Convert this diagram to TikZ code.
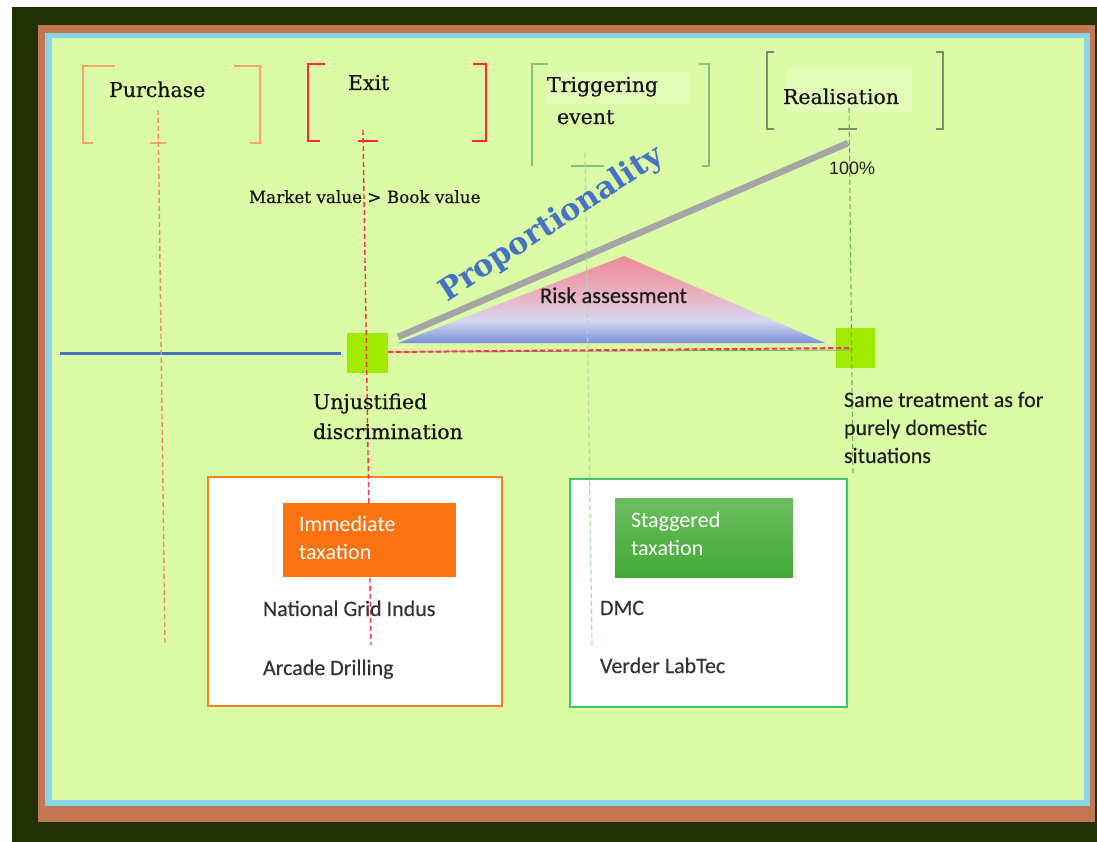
\documentclass[tikz,border=0pt]{standalone}
\usepackage{fontspec}
\setmainfont{DejaVu Serif}
\newfontfamily\heavyserif[FakeBold=0.45]{DejaVu Serif}
\newfontfamily\calfont[FakeBold=0.25]{Carlito}
\newfontfamily\calplain{Carlito}
\newfontfamily\arialfont{Liberation Sans}
\usetikzlibrary{calc}

\definecolor{outerDark}{HTML}{223005}
\definecolor{frameBrown}{HTML}{C07752}
\definecolor{frameBlue}{HTML}{88D4E6}
\definecolor{panelGreen}{HTML}{DBFBA7}
\definecolor{hiGreen}{HTML}{E2FBB6}
\definecolor{brPurch}{HTML}{F9A465}
\definecolor{brExit}{HTML}{FF2B2B}
\definecolor{brTrig}{HTML}{80C080}
\definecolor{brReal}{HTML}{7C8C6C}
\definecolor{dPurch}{HTML}{F4846E}
\definecolor{dExit}{HTML}{FF3050}
\definecolor{dTrig}{HTML}{A6E0A6}
\definecolor{dReal}{HTML}{5CB85C}
\definecolor{rampGray}{HTML}{A5A5A5}
\definecolor{markGreen}{HTML}{A3EB00}
\definecolor{lineBlue}{HTML}{4472C4}
\definecolor{triTop}{HTML}{EE8A9A}
\definecolor{triPink}{HTML}{E8B4C2}
\definecolor{triMid}{HTML}{D8D8F0}
\definecolor{triBot}{HTML}{7890DC}
\definecolor{boxOrange}{HTML}{F58220}
\definecolor{fillOrange}{HTML}{FA7312}
\definecolor{boxGreen}{HTML}{3CC864}
\definecolor{fillGreenTop}{HTML}{6CBF60}
\definecolor{fillGreenBot}{HTML}{41A935}
\definecolor{baseLine}{HTML}{6CBF5C}

% vertical fade for the risk triangle (path box maps to 25bp..75bp)
\pgfdeclareverticalshading{riskfade}{100bp}{%
  color(0bp)=(triBot); color(25bp)=(triBot); color(38bp)=(triMid);
  color(52bp)=(triPink); color(75bp)=(triTop); color(100bp)=(triTop)}

\begin{document}
\begin{tikzpicture}[x=1pt,y=-1pt,
  txt/.style={inner sep=0pt, outer sep=0pt, anchor=base west},
  serifLbl/.style={txt, font=\heavyserif\fontsize{20.5}{24}\selectfont, text=black!92},
  serifSmall/.style={txt, font=\heavyserif\fontsize{16.8}{20}\selectfont, text=black!92},
  sansLbl/.style={txt, font=\calfont\fontsize{22}{26}\selectfont, text=black!85},
  sansWhite/.style={txt, font=\calplain\fontsize{22}{26}\selectfont, text=white},
  bracket/.style={line width=1.5pt},
  guide/.style={line width=1.4pt, dash pattern=on 5pt off 3pt},
  plainbox/.style={inner sep=0pt, outer sep=0pt, anchor=north west, fill=white, line width=1.3pt},
  square/.style={inner sep=0pt, outer sep=0pt, anchor=north west, fill=markGreen}]

\useasboundingbox (0,0) rectangle (1097,842);
\fill[white] (0,0) rectangle (1097,842);

% frames and panel
\fill[outerDark] (12,7) rectangle (1097,842);
\fill[frameBrown] (38,25) rectangle (1095,822);
\fill[frameBlue] (45,33) rectangle (1090,806);
\fill[panelGreen] (52,38) rectangle (1084,800);

% soft highlights behind two labels
\fill[hiGreen] (545,72) rectangle (689,104);
\fill[hiGreen] (787,68) rectangle (912,112);

% stage brackets
\draw[bracket, brPurch] (115,66) -- (83,66) -- (83,143) -- (93,143);
\draw[bracket, brPurch] (234,66) -- (260,66) -- (260,143) -- (250,143);
\draw[bracket, brPurch] (150,143) -- (166,143);

\draw[bracket, brExit] (325,64) -- (308,64) -- (308,141) -- (320,141);
\draw[bracket, brExit] (473,64) -- (486,64) -- (486,141) -- (472,141);
\draw[bracket, brExit] (358,141) -- (378,141);

\draw[bracket, brTrig] (548,64) -- (532,64) -- (532,166);
\draw[bracket, brTrig] (699,64) -- (709,64) -- (709,166) -- (702,166);
\draw[bracket, brTrig] (571,166) -- (604,166);

\draw[bracket, brReal] (774,52) -- (767,52) -- (767,129) -- (774,129);
\draw[bracket, brReal] (936,52) -- (943,52) -- (943,129) -- (936,129);
\draw[bracket, brReal] (838,129) -- (857,129);

% markers on the baseline
\node[square, minimum width=41pt, minimum height=40pt] (sqL) at (347,333) {};
\node[square, minimum width=39pt, minimum height=40pt] (sqR) at (836,328) {};

% baseline before the first marker
\coordinate (blueStart) at (60,353);
\coordinate (blueEnd) at (341,353);
\draw[lineBlue, line width=3pt] (blueStart) -- (blueEnd);

% risk triangle
\coordinate (triA) at (398,343);
\coordinate (triB) at (624,256);
\coordinate (triC) at (825,343);
\shade[shading=riskfade] (triA) -- (triB) -- (triC) -- cycle;

% proportionality ramp
\coordinate (rampStart) at (398,337);
\coordinate (rampEnd) at (848,143);
\draw[rampGray, line width=6.5pt] (rampStart) -- (rampEnd);

% baseline between the markers
\draw[baseLine, line width=1pt] (sqL.east |- 0,352) -- (852,350);
\draw[dExit, line width=2pt, dash pattern=on 5pt off 3pt] (sqL.east |- 0,352) -- (852,348);

% outcome boxes
\node[plainbox, draw=boxOrange, minimum width=294pt, minimum height=229pt] (boxL) at (208,477) {};
\node[plainbox, draw=boxGreen, minimum width=277pt, minimum height=228pt] (boxR) at (570,479) {};

% vertical guides from each stage
\coordinate (pTop) at (158,110);  \coordinate (pEnd) at (165,643);
\coordinate (eTop) at (363,130);  \coordinate (eEnd) at (371,645);
\coordinate (tTop) at (585,153);  \coordinate (tEnd) at (592,645);
\coordinate (rTop) at (849,108);  \coordinate (rEnd) at (853,475);
\draw[guide, dPurch] (pTop) -- (pEnd);
\draw[guide, dExit] (eTop) -- (eEnd);
\draw[guide, dTrig, line width=1.2pt] (tTop) -- (tEnd);
\draw[guide, dReal, line width=1.1pt] (rTop) -- (rEnd);

% coloured headers inside the boxes
\node[inner sep=0pt, outer sep=0pt, anchor=north west, fill=fillOrange,
      minimum width=173pt, minimum height=74pt] (hdrL) at (283,503) {};
\shade[top color=fillGreenTop, bottom color=fillGreenBot] (615,498) rectangle (793,577);
\coordinate (hdrR) at (615,498);

% stage labels
\node[serifLbl] (purchase) at (109,97) {Purchase};
\node[serifLbl] (exit) at (348,90) {Exit};
\node[serifLbl] (trigA) at (547,92) {Triggering};
\node[serifLbl] (trigB) at (557,124) {event};
\node[serifLbl] (realis) at (783,104) {Realisation};
\node[txt, font=\arialfont\fontsize{18}{20}\selectfont, text=black!88] (pct) at (829,175) {100\%};
\node[serifSmall] (market) at (249,203) {Market value > Book value};

\node[txt, rotate=33, font=\bfseries\fontsize{30.5}{32}\selectfont, text=lineBlue] (prop) at (447,302) {Proportionality};
\node[sansLbl, text=black!90, font=\calfont\fontsize{22.5}{26}\selectfont] (risk) at (540,303) {Risk assessment};

\node[serifLbl] (unjA) at (313,409) {Unjustified};
\node[serifLbl] (unjB) at (313,439) {discrimination};

\node[sansLbl, text=black!88] (sameA) at (844,407) {Same treatment as for};
\node[sansLbl, text=black!88] (sameB) at (844,435) {purely domestic};
\node[sansLbl, text=black!88] (sameC) at (844,463) {situations};

% box contents
\node[sansWhite] (immA) at (299,531) {Immediate};
\node[sansWhite] (immB) at (299,559) {taxation};
\node[sansLbl, text=black!80] (ngi) at (263,616) {National Grid Indus};
\node[sansLbl, text=black!80] (arc) at (263,675) {Arcade Drilling};

\node[sansWhite] (stgA) at (631,527) {Staggered};
\node[sansWhite] (stgB) at (631,555) {taxation};
\node[sansLbl, text=black!80] (dmc) at (600,615) {DMC};
\node[sansLbl, text=black!80] (verder) at (600,673) {Verder LabTec};

\end{tikzpicture}
\end{document}
